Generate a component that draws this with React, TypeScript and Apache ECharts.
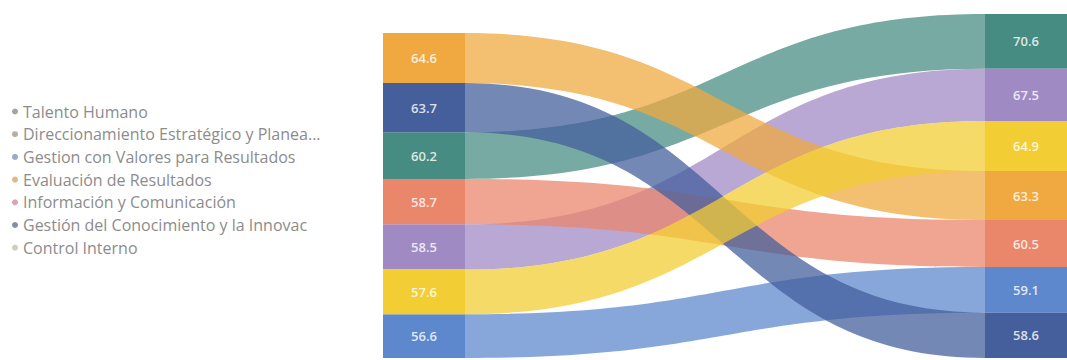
import React, { useEffect, useRef } from "react";
import * as echarts from "echarts";

// Categories (legend order)
const categories = [
  "Talento Humano",
  "Direccionamiento Estratégico y Planea...",
  "Gestion con Valores para Resultados",
  "Evaluación de Resultados",
  "Información y Comunicación",
  "Gestión del Conocimiento y la Innovac",
  "Control Interno",
];
// Values in the first (left) and second (right) measurement
const valuesBefore = [60.2, 58.5, 56.6, 64.6, 58.7, 63.7, 57.6];
const valuesAfter = [70.6, 67.5, 59.1, 63.3, 60.5, 58.6, 64.9];
// Colours
const bandColors = ["#478C82", "#A08AC4", "#5D88CD", "#EFA940", "#EA866A", "#445F9C", "#F2CD33"];
const legendColors = ["#a3a3a3", "#b9aea6", "#9ea8cc", "#dcb88e", "#dca3b3", "#848ca4", "#cfcfc0"];

const NODE_W = 82;

function columnLayout(vals: number[]) {
  const total = vals.reduce((a, b) => a + b, 0);
  const order = vals.map((_, i) => i).sort((a, b) => vals[b] - vals[a]);
  const top: number[] = new Array(vals.length);
  let cur = total;
  order.forEach((i) => {
    top[i] = cur;
    cur -= vals[i];
  });
  return { total, top };
}

export default function App() {
  const ref = useRef<HTMLDivElement>(null);
  useEffect(() => {
    if (!ref.current) return;
    const chart = echarts.init(ref.current, undefined, { renderer: "svg" });
    const L = columnLayout(valuesBefore);
    const R = columnLayout(valuesAfter);
    const yMax = Math.max(L.total, R.total);

    const bandData = categories.map((_, i) => [
      L.top[i],
      L.top[i] - valuesBefore[i],
      R.top[i],
      R.top[i] - valuesAfter[i],
      i,
    ]);
    const nodeData: number[][] = [];
    categories.forEach((_, i) => {
      nodeData.push([0, L.top[i], L.top[i] - valuesBefore[i], valuesBefore[i], i]);
      nodeData.push([1, R.top[i], R.top[i] - valuesAfter[i], valuesAfter[i], i]);
    });

    const legendSeries = categories.map((name, i) => ({
      type: "line" as const,
      name,
      data: [],
      itemStyle: { color: legendColors[i] },
      lineStyle: { color: legendColors[i] },
    }));

    chart.setOption({
      animation: false,
      backgroundColor: "#ffffff",
      grid: { left: 383, right: -12, top: 14, bottom: 2 },
      xAxis: { type: "value", min: 0, max: 1, show: false },
      yAxis: { type: "value", min: 0, max: yMax, show: false },
      legend: {
        orient: "vertical",
        left: 12,
        top: 103,
        padding: 0,
        icon: "circle",
        itemWidth: 6,
        itemHeight: 6,
        itemGap: 5.7,
        selectedMode: false,
        data: categories,
        textStyle: {
          color: "#8c8c8c",
          fontSize: 16,
          fontFamily: "Open Sans",
          lineHeight: 17,
        },
      },
      series: [
        ...legendSeries,
        {
          type: "custom",
          name: "bands",
          silent: true,
          data: bandData,
          renderItem: (params: any, api: any) => {
            const i = api.value(4);
            const a = api.coord([0, api.value(0)]);
            const b = api.coord([0, api.value(1)]);
            const c = api.coord([1, api.value(2)]);
            const d = api.coord([1, api.value(3)]);
            const x0 = a[0] + NODE_W;
            const x1 = c[0] - NODE_W;
            const xm = (x0 + x1) / 2;
            const pathData =
              `M${x0},${a[1]} C${xm},${a[1]} ${xm},${c[1]} ${x1},${c[1]} ` +
              `L${x1},${d[1]} C${xm},${d[1]} ${xm},${b[1]} ${x0},${b[1]} Z`;
            return {
              type: "path",
              shape: { pathData },
              style: { fill: bandColors[i], opacity: 0.74 },
            };
          },
        },
        {
          type: "custom",
          name: "nodes",
          silent: true,
          data: nodeData,
          renderItem: (params: any, api: any) => {
            const col = api.value(0);
            const i = api.value(4);
            const p = api.coord([col, api.value(1)]);
            const q = api.coord([col, api.value(2)]);
            const x = col === 0 ? p[0] : p[0] - NODE_W;
            return {
              type: "group",
              children: [
                {
                  type: "rect",
                  shape: { x, y: p[1], width: NODE_W, height: q[1] - p[1] },
                  style: { fill: bandColors[i] },
                },
                {
                  type: "text",
                  style: {
                    text: Number(api.value(3)).toFixed(1),
                    x: x + NODE_W / 2,
                    y: (p[1] + q[1]) / 2,
                    align: "center",
                    verticalAlign: "middle",
                    fill: "rgba(255,255,255,0.82)",
                    fontSize: 13,
                    fontWeight: 600,
                    fontFamily: "Open Sans",
                  },
                },
              ],
            };
          },
        },
      ],
    });
    return () => chart.dispose();
  }, []);
  return (
    <div
      ref={ref}
      style={{ position: "fixed", left: 0, top: 0, width: 1067, height: 360 }}
    />
  );
}
